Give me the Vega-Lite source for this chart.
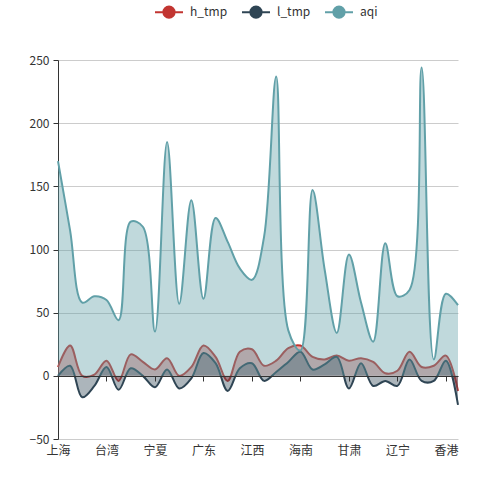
{
  "$schema": "https://vega.github.io/schema/vega-lite/v6.json",
  "width": 400,
  "height": 379,
  "autosize": "none",
  "padding": {"left": 58, "top": 60, "right": 42, "bottom": 61},
  "data": {
    "values": [
      {"city": "上海", "h_tmp": 7, "l_tmp": 0, "aqi": 170},
      {"city": "云南", "h_tmp": 24, "l_tmp": 8, "aqi": 115},
      {"city": "内蒙古", "h_tmp": 0, "l_tmp": -17, "aqi": 58},
      {"city": "北京", "h_tmp": 1, "l_tmp": -8, "aqi": 63},
      {"city": "台湾", "h_tmp": 12, "l_tmp": 7, "aqi": 60},
      {"city": "吉林", "h_tmp": -4, "l_tmp": -11, "aqi": 44},
      {"city": "四川", "h_tmp": 17, "l_tmp": 6, "aqi": 122},
      {"city": "天津", "h_tmp": 11, "l_tmp": 0, "aqi": 118},
      {"city": "宁夏", "h_tmp": 5, "l_tmp": -9, "aqi": 35},
      {"city": "安徽", "h_tmp": 14, "l_tmp": 5, "aqi": 185},
      {"city": "山东", "h_tmp": 0, "l_tmp": -10, "aqi": 57},
      {"city": "山西", "h_tmp": 7, "l_tmp": -2, "aqi": 139},
      {"city": "广东", "h_tmp": 24, "l_tmp": 18, "aqi": 61},
      {"city": "广西", "h_tmp": 15, "l_tmp": 10, "aqi": 125},
      {"city": "新疆", "h_tmp": -4, "l_tmp": -12, "aqi": 106},
      {"city": "江苏", "h_tmp": 19, "l_tmp": 6, "aqi": 85},
      {"city": "江西", "h_tmp": 21, "l_tmp": 10, "aqi": 76},
      {"city": "河北", "h_tmp": 8, "l_tmp": -4, "aqi": 110},
      {"city": "河南", "h_tmp": 12, "l_tmp": 3, "aqi": 237},
      {"city": "浙江", "h_tmp": 22, "l_tmp": 11, "aqi": 36},
      {"city": "海南", "h_tmp": 24, "l_tmp": 19, "aqi": 20},
      {"city": "湖北", "h_tmp": 15, "l_tmp": 5, "aqi": 147},
      {"city": "湖南", "h_tmp": 13, "l_tmp": 9, "aqi": 84},
      {"city": "澳门", "h_tmp": 16, "l_tmp": 15, "aqi": 34},
      {"city": "甘肃", "h_tmp": 12, "l_tmp": -10, "aqi": 96},
      {"city": "福建", "h_tmp": 14, "l_tmp": 10, "aqi": 58},
      {"city": "西藏", "h_tmp": 11, "l_tmp": -8, "aqi": 27},
      {"city": "贵州", "h_tmp": 2, "l_tmp": -4, "aqi": 105},
      {"city": "辽宁", "h_tmp": 4, "l_tmp": -8, "aqi": 63},
      {"city": "重庆", "h_tmp": 19, "l_tmp": 13, "aqi": 68},
      {"city": "陕西", "h_tmp": 7, "l_tmp": -4, "aqi": 244},
      {"city": "青海", "h_tmp": 8, "l_tmp": -4, "aqi": 13},
      {"city": "香港", "h_tmp": 16, "l_tmp": 12, "aqi": 65},
      {"city": "黑龙江", "h_tmp": -12, "l_tmp": -23, "aqi": 56}
    ]
  },
  "transform": [{"fold": ["h_tmp", "l_tmp", "aqi"], "as": ["series", "value"]}],
  "encoding": {
    "x": {
      "field": "city",
      "type": "nominal",
      "sort": null,
      "scale": {"type": "point", "padding": 0},
      "axis": {
        "title": null,
        "values": ["上海", "台湾", "宁夏", "广东", "江西", "海南", "甘肃", "辽宁", "香港"],
        "labelAngle": 0,
        "offset": -63,
        "labelPadding": 64,
        "tickSize": 5,
        "domainColor": "#333",
        "tickColor": "#333",
        "grid": false,
        "zindex": 1
      }
    },
    "y": {
      "field": "value",
      "type": "quantitative",
      "scale": {"domain": [-50, 250], "nice": false, "zero": false},
      "axis": {
        "title": null,
        "values": [-50, 0, 50, 100, 150, 200, 250],
        "tickSize": 5,
        "labelPadding": 4,
        "domainColor": "#333",
        "tickColor": "#333",
        "gridColor": "#ccc"
      }
    },
    "color": {
      "field": "series",
      "type": "nominal",
      "scale": {"domain": ["h_tmp", "l_tmp", "aqi"], "range": ["#c23531", "#2f4554", "#61a0a8"]},
      "legend": {
        "title": null,
        "orient": "none",
        "direction": "horizontal",
        "legendX": 96,
        "legendY": -63,
        "symbolType": "M-1,0L-0.4,0M0.4,0L1,0M-0.4,0A0.4,0.4,0,1,1,0.4,0A0.4,0.4,0,1,1,-0.4,0Z",
        "symbolSize": 784,
        "symbolStrokeWidth": 2,
        "symbolOpacity": 1,
        "labelOffset": 6,
        "columnPadding": 10,
        "encode": {
          "symbols": {
            "update": {
              "fill": {"scale": "color", "field": "value"},
              "stroke": {"scale": "color", "field": "value"},
              "opacity": {"value": 1}
            }
          }
        }
      }
    }
  },
  "layer": [
    {
      "transform": [{"filter": "datum.series === 'h_tmp'"}],
      "mark": {"type": "area", "interpolate": "catmull-rom", "opacity": 0.4},
      "encoding": {"y2": {"datum": 0}}
    },
    {
      "transform": [{"filter": "datum.series === 'h_tmp'"}],
      "mark": {"type": "line", "interpolate": "catmull-rom", "strokeWidth": 2}
    },
    {
      "transform": [{"filter": "datum.series === 'l_tmp'"}],
      "mark": {"type": "area", "interpolate": "catmull-rom", "opacity": 0.4},
      "encoding": {"y2": {"datum": 0}}
    },
    {
      "transform": [{"filter": "datum.series === 'l_tmp'"}],
      "mark": {"type": "line", "interpolate": "catmull-rom", "strokeWidth": 2}
    },
    {
      "transform": [{"filter": "datum.series === 'aqi'"}],
      "mark": {"type": "area", "interpolate": "catmull-rom", "opacity": 0.4},
      "encoding": {"y2": {"datum": 0}}
    },
    {
      "transform": [{"filter": "datum.series === 'aqi'"}],
      "mark": {"type": "line", "interpolate": "catmull-rom", "strokeWidth": 2}
    }
  ],
  "config": {
    "font": "Noto Sans CJK SC",
    "view": {"stroke": null},
    "axis": {"labelFontSize": 12, "labelColor": "#333", "labelFont": "Noto Sans CJK SC"},
    "legend": {"labelFontSize": 12, "labelColor": "#333", "labelFont": "Noto Sans CJK SC"}
  }
}
